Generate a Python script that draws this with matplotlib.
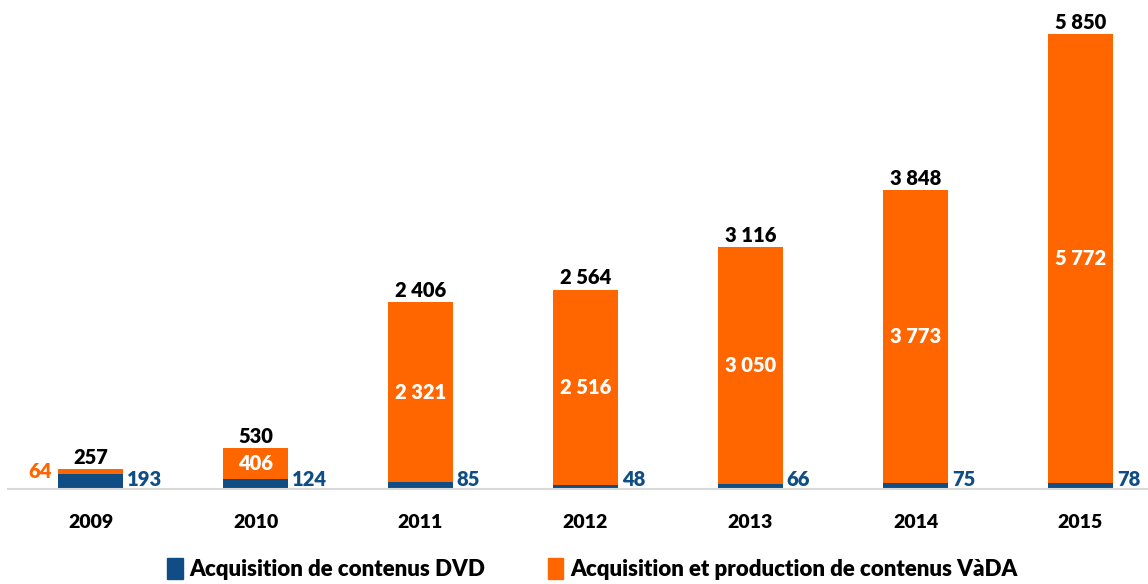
import matplotlib.pyplot as plt
from matplotlib.patches import Patch

years = ["2009", "2010", "2011", "2012", "2013", "2014", "2015"]
dvd = [193, 124, 85, 48, 66, 75, 78]
vada = [64, 406, 2321, 2516, 3050, 3773, 5772]
totals = [257, 530, 2406, 2564, 3116, 3848, 5850]

blue = "#0F4D84"
orange = "#FF6600"
font = "Lato"
wt = "heavy"


def fmt(v):
    return "{:,}".format(v).replace(",", " ")


fig = plt.figure(figsize=(11.48, 5.84), dpi=100)
ax = fig.add_axes([8 / 1148, 95 / 584, 1155 / 1148, 489 / 584])

x = list(range(len(years)))
w = 0.39
ax.bar(x, dvd, w, color=blue, zorder=2)
ax.bar(x, vada, w, bottom=dvd, color=orange, zorder=2)

for i in x:
    # total above the bar
    ax.annotate(fmt(totals[i]), (i, dvd[i] + vada[i]), xytext=(0, 1.5),
                textcoords="offset points", ha="center", va="bottom",
                fontsize=14.5, fontweight=wt, family=font, color="black")
    # DVD value to the right of the bar
    ax.annotate(fmt(dvd[i]), (i + w / 2, 0), xytext=(3, 0),
                textcoords="offset points", ha="left", va="bottom",
                fontsize=14.5, fontweight=wt, family=font, color=blue)
    if i == 0:
        ax.annotate(fmt(vada[i]), (i - w / 2, 0), xytext=(-5, 6),
                    textcoords="offset points", ha="right", va="bottom",
                    fontsize=14.5, fontweight=wt, family=font, color=orange)
    else:
        ax.text(i, dvd[i] + vada[i] / 2, fmt(vada[i]), ha="center", va="center",
                fontsize=14.5, fontweight=wt, family=font, color="white")

ax.set_xlim(-0.5, 6.5)
ax.set_ylim(0, 6287)
ax.set_yticks([])
ax.set_xticks(x)
ax.set_xticklabels(years, fontsize=14, fontweight=wt, family=font)
ax.tick_params(axis="x", length=0, pad=18)
for s in ["top", "right", "left"]:
    ax.spines[s].set_visible(False)
ax.spines["bottom"].set_color("#D9D9D9")
ax.spines["bottom"].set_linewidth(1.5)

handles = [Patch(color=blue, label="Acquisition de contenus DVD"),
           Patch(color=orange, label="Acquisition et production de contenus VàDA")]
fig.legend(handles=handles, loc="center", bbox_to_anchor=(0.516, 15 / 584),
           ncol=2, frameon=False, handlelength=0.7, handleheight=1.1,
           handletextpad=0.3, columnspacing=2.8,
           prop={"family": font, "weight": wt, "size": 16})

fig.savefig("out.png", dpi=100)
